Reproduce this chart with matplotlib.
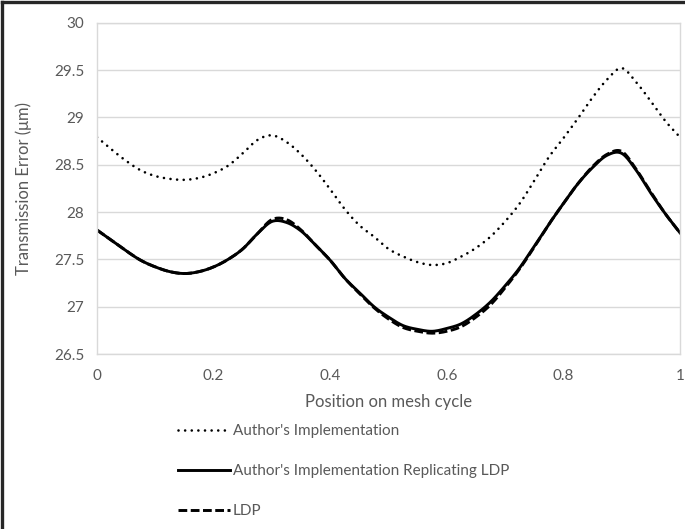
import matplotlib
matplotlib.use("Agg")
import numpy as np
import matplotlib.pyplot as plt
from matplotlib.lines import Line2D

positions = [0.000, 0.025, 0.050, 0.075, 0.100, 0.125, 0.150, 0.175, 0.200, 0.225,
             0.250, 0.275, 0.300, 0.325, 0.350, 0.375, 0.400, 0.425, 0.450, 0.475,
             0.500, 0.525, 0.550, 0.575, 0.600, 0.625, 0.650, 0.675, 0.700, 0.725,
             0.750, 0.775, 0.800, 0.825, 0.850, 0.875, 0.900, 0.925, 0.950, 0.975, 1.000]

authors = [28.79, 28.66, 28.54, 28.44, 28.38, 28.35, 28.34, 28.36, 28.41, 28.49,
           28.62, 28.76, 28.81, 28.74, 28.61, 28.44, 28.24, 28.03, 27.86, 27.74,
           27.61, 27.53, 27.47, 27.44, 27.46, 27.53, 27.62, 27.74, 27.90, 28.09,
           28.33, 28.58, 28.78, 28.99, 29.21, 29.40, 29.52, 29.37, 29.17, 28.96, 28.79]

replicating = [27.81, 27.70, 27.59, 27.49, 27.42, 27.37, 27.35, 27.37, 27.42, 27.50,
               27.61, 27.77, 27.90, 27.89, 27.80, 27.65, 27.49, 27.30, 27.15, 27.00,
               26.89, 26.80, 26.76, 26.74, 26.77, 26.82, 26.92, 27.05, 27.22, 27.41,
               27.64, 27.87, 28.09, 28.30, 28.47, 28.60, 28.62, 28.44, 28.20, 27.98, 27.78]

ldp = [27.81, 27.70, 27.59, 27.49, 27.42, 27.37, 27.35, 27.37, 27.42, 27.50,
       27.61, 27.77, 27.92, 27.92, 27.81, 27.65, 27.49, 27.30, 27.14, 26.99,
       26.87, 26.78, 26.74, 26.72, 26.74, 26.79, 26.89, 27.02, 27.20, 27.40,
       27.63, 27.87, 28.09, 28.30, 28.48, 28.61, 28.64, 28.45, 28.21, 27.98, 27.78]

labels = ["Author's Implementation",
          "Author's Implementation Replicating LDP",
          "LDP"]
x_ticks = [0, 0.2, 0.4, 0.6, 0.8, 1]
x_tick_labels = ["0", "0.2", "0.4", "0.6", "0.8", "1"]
y_ticks = [26.5, 27, 27.5, 28, 28.5, 29, 29.5, 30]
y_tick_labels = ["26.5", "27", "27.5", "28", "28.5", "29", "29.5", "30"]


def smooth(xs, ys, n=12):
    """Catmull-Rom rendering of a smoothed line (like a spreadsheet's smoothed line)."""
    x = np.asarray(xs, float)
    y = np.asarray(ys, float)
    xp = np.concatenate([[2 * x[0] - x[1]], x, [2 * x[-1] - x[-2]]])
    yp = np.concatenate([[2 * y[0] - y[1]], y, [2 * y[-1] - y[-2]]])
    ox, oy = [], []
    t = np.linspace(0, 1, n, endpoint=False)
    for i in range(1, len(xp) - 2):
        for arr, out in ((xp, ox), (yp, oy)):
            p0, p1, p2, p3 = arr[i - 1], arr[i], arr[i + 1], arr[i + 2]
            out.extend(0.5 * ((2 * p1) + (-p0 + p2) * t +
                              (2 * p0 - 5 * p1 + 4 * p2 - p3) * t ** 2 +
                              (-p0 + 3 * p1 - 3 * p2 + p3) * t ** 3))
    ox.append(x[-1])
    oy.append(y[-1])
    return ox, oy


plt.rcParams['font.family'] = ['Lato', 'DejaVu Sans']
text_color = '#595959'
grid_color = '#d9d9d9'

fig = plt.figure(figsize=(6.85, 5.29), dpi=100)
ax = fig.add_axes([97/685, 1 - 354/529, (680 - 97)/685, (354 - 22.7)/529])

l1, = ax.plot(*smooth(positions, authors), color='black', lw=1.9,
              linestyle=(0, (0.01, 2.5)), dash_capstyle='round', label=labels[0])
l2, = ax.plot(*smooth(positions, replicating), color='black', lw=2.1,
              linestyle='-', solid_joinstyle='round', label=labels[1])
l3, = ax.plot(*smooth(positions, ldp), color='black', lw=2.1,
              linestyle=(0, (3.0, 1.2)), label=labels[2])

ax.set_xlim(0, 1)
ax.set_ylim(26.5, 30)
ax.set_xticks(x_ticks)
ax.set_xticklabels(x_tick_labels)
ax.set_yticks(y_ticks)
ax.set_yticklabels(y_tick_labels)
ax.tick_params(axis='both', length=0, colors=text_color, labelsize=11)
ax.tick_params(axis='x', pad=11)
ax.tick_params(axis='y', pad=9)
ax.grid(True, axis='y', color=grid_color, lw=1)
ax.set_axisbelow(True)
for s in ax.spines.values():
    s.set_color(grid_color)
    s.set_linewidth(1)

ax.set_xlabel("Position on mesh cycle", color=text_color, fontsize=12, labelpad=8)
ax.set_ylabel("Transmission Error (μm)", color=text_color, fontsize=12, labelpad=16)

leg = fig.legend(handles=[l1, l2, l3], loc='upper left',
                 bbox_to_anchor=(172/685, 1 - 418/529), frameon=False,
                 fontsize=11, handlelength=3.4, handletextpad=0.2,
                 labelspacing=1.7, borderaxespad=0)
for t in leg.get_texts():
    t.set_color(text_color)

# figure frame (left and top edges visible)
fig.add_artist(Line2D([0.003, 0.003], [-0.1, 0.997], transform=fig.transFigure,
                      color='#262626', lw=2.4))
fig.add_artist(Line2D([0.003, 1.1], [0.997, 0.997], transform=fig.transFigure,
                      color='#262626', lw=2.4))

fig.savefig("out.png", dpi=100)
